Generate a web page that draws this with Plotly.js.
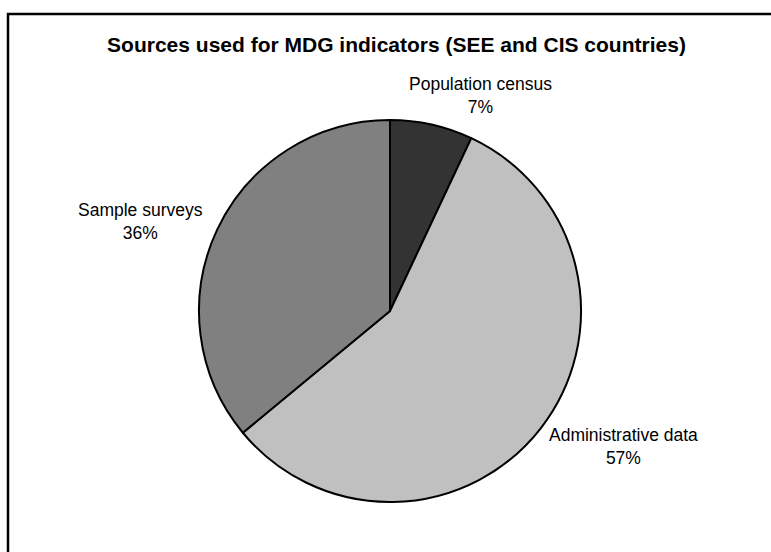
<!DOCTYPE html>
<html>
<head>
<meta charset="utf-8">
<script src="https://cdn.plot.ly/plotly-3.0.1.min.js"></script>
<style>html,body{margin:0;padding:0;background:#fff;}#chart{width:771px;height:552px;}</style>
</head>
<body>
<div id="chart"></div>
<script>
var categories = ["Population census", "Administrative data", "Sample surveys"];
var shares = [7, 57, 36];
var sliceColors = ["#333333", "#C0C0C0", "#808080"];
var chartTitle = "Sources used for MDG indicators (SEE and CIS countries)";

var W = 771, H = 552;
function px(x) { return x / W; }
function py(y) { return (H - y) / H; }

var total = shares.reduce(function (a, b) { return a + b; }, 0);
function pct(v) { return Math.round(v / total * 100) + "%"; }

var labelPos = [[480, 95], [623, 447], [140, 221]];
var annotations = categories.map(function (c, i) {
  return {
    text: c + "<br>" + pct(shares[i]),
    xref: "paper", yref: "paper",
    x: px(labelPos[i][0]), y: py(labelPos[i][1]),
    xanchor: "center", yanchor: "middle",
    showarrow: false, align: "center",
    font: {family: "Liberation Sans, Arial, sans-serif", size: 17.5, color: "#000"}
  };
});

var cx = 390, cy = 311, r = 191;
var trace = {
  type: "pie",
  labels: categories,
  values: shares,
  sort: false,
  direction: "clockwise",
  rotation: 0,
  textinfo: "none",
  hoverinfo: "none",
  marker: {colors: sliceColors, line: {color: "#000", width: 2}},
  domain: {x: [px(cx - r), px(cx + r)], y: [py(cy + r), py(cy - r)]},
  showlegend: false
};

var layout = {
  width: W, height: H,
  margin: {l: 0, r: 0, t: 0, b: 0},
  paper_bgcolor: "#fff",
  title: {
    text: "<b>" + chartTitle + "</b>",
    x: px(396.5), xanchor: "center",
    y: py(44.5), yanchor: "middle", yref: "paper",
    font: {family: "Liberation Sans, Arial, sans-serif", size: 21, color: "#000"}
  },
  annotations: annotations,
  shapes: [{
    type: "rect", xref: "paper", yref: "paper",
    x0: px(8), x1: 1.1, y0: -0.1, y1: py(14),
    line: {color: "#000", width: 2.5}, fillcolor: "rgba(0,0,0,0)"
  }]
};

Plotly.newPlot("chart", [trace], layout, {staticPlot: true});
</script>
</body>
</html>
